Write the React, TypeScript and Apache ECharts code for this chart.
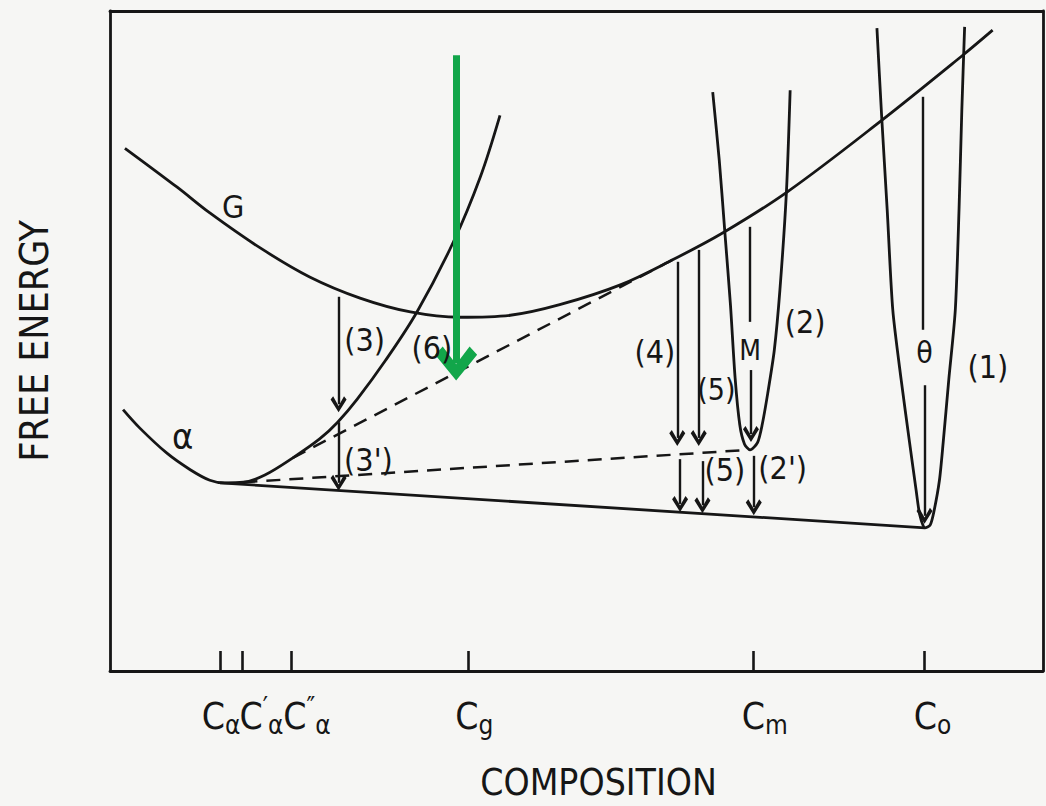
import React, { useEffect, useRef } from 'react';
import * as echarts from 'echarts';

// ---- data (composition / free energy, arbitrary units 0..100) ----
const curveG: [number, number][] = [
  [1.6, 79.2], [7.2, 73.3], [10.7, 69.4], [16.1, 64.1], [21.4, 59.7], [26.8, 56.5],
  [32.2, 54.4], [37.5, 53.6], [42.9, 53.9], [48.2, 55.5], [54.7, 58.5], [60.3, 62.3],
  [65.7, 66.4], [72.6, 72.6], [82.5, 83.2], [91.4, 93.3], [94.6, 97.1],
];
const curveAlpha: [number, number][] = [
  [1.4, 39.6], [3.2, 36.8], [6.1, 33.0], [8.6, 30.5], [10.7, 28.9], [12.3, 28.5],
  [14.3, 28.6], [16.6, 29.7], [19.6, 32.3], [22.5, 35.2], [24.4, 37.7], [26.5, 41.2],
  [29.5, 47.0], [32.9, 54.4], [36.8, 65.0], [39.7, 74.9], [41.8, 84.2],
];
const curveM: [number, number][] = [
  [64.6, 87.7], [65.3, 77.4], [65.9, 66.5], [66.5, 55.5], [67.0, 44.4], [67.5, 37.3],
  [68.0, 34.4], [68.6, 33.5], [69.4, 34.6], [69.9, 37.3], [70.5, 42.1], [71.2, 48.6],
  [71.8, 57.7], [72.5, 72.6], [72.9, 88.0],
];
const curveTheta: [number, number][] = [
  [82.2, 97.4], [82.7, 84.2], [83.3, 69.9], [83.9, 54.7], [84.8, 44.1], [85.7, 34.6],
  [86.4, 27.4], [86.8, 23.6], [87.35, 21.7], [87.9, 22.1], [88.3, 24.1], [88.9, 28.9],
  [89.3, 34.6], [89.9, 44.1], [90.6, 54.7], [91.0, 69.9], [91.3, 85.0], [91.6, 97.6],
];
const tangentSolid: [number, number][] = [[11.8, 28.5], [87.35, 21.7]];
const tangentToM: [number, number][] = [[14.3, 28.6], [68.4, 33.5]];
const tangentToG: [number, number][] = [[19.6, 32.3], [60.3, 62.3]];

// arrows: [x, yStart, yTip]
const arrowsWithHead: [number, number, number][] = [
  [24.5, 56.7, 39.2],  // (3)
  [24.5, 37.7, 27.3],  // (3')
  [60.8, 62.0, 34.1],  // (4)
  [61.1, 32.1, 24.1],  // (4')
  [63.1, 63.8, 34.1],  // (5)
  [63.5, 31.8, 23.9],  // (5')
  [68.7, 45.6, 34.7],  // (2) lower part
  [69.0, 32.6, 23.6],  // (2')
  [87.3, 43.3, 22.3],  // (1) lower part
];
const arrowShafts: [number, number, number][] = [
  [68.6, 67.3, 52.9],  // (2) upper part
  [87.1, 87.0, 51.7],  // (1) upper part
];
const greenArrow: [number, number, number] = [37.1, 93.3, 44.0];

const tickValues = [11.8, 14.2, 19.4, 38.4, 68.9, 87.3];
const tickSubs = ['α', 'α', 'α', 'g', 'm', 'o'];
const tickPrimes = ['', '′', '″', '', '', ''];

const annotations: { name: string; value: [number, number]; size: number }[] = [
  { name: 'G', value: [13.2, 70.3], size: 32 },
  { name: 'α', value: [7.8, 35.5], size: 36 },
  { name: '(3)', value: [27.3, 50.2], size: 32 },
  { name: '(6)', value: [34.5, 48.9], size: 32 },
  { name: "(3')", value: [27.7, 32.0], size: 32 },
  { name: '(4)', value: [58.4, 48.3], size: 32 },
  { name: '(5)', value: [65.0, 42.6], size: 30 },
  { name: 'M', value: [68.6, 48.6], size: 28 },
  { name: '(2)', value: [74.5, 52.9], size: 32 },
  { name: '(5)', value: [65.9, 30.5], size: 32 },
  { name: "(2')", value: [72.1, 30.8], size: 32 },
  { name: 'θ', value: [87.3, 48.3], size: 30 },
  { name: '(1)', value: [94.1, 46.1], size: 32 },
];

// ---- styling ----
const INK = '#161616';
const GREEN = '#12a64a';
const BG = '#f6f6f4';
const FONT = '"DejaVu Sans Condensed", "Liberation Sans Narrow", "DejaVu Sans", sans-serif';
const CHEVRON = 'path://M50,0L100,80L84,100L50,40L16,100L0,80Z';
const labelDx = [1, 19, 16, 6, 12, 8];
const UNIT_Y = 6.6; // px per y unit

export default function App() {
  const ref = useRef<HTMLDivElement>(null);
  useEffect(() => {
    if (!ref.current) return;
    const chart = echarts.init(ref.current, null, { renderer: 'svg' });
    const curve = (data: [number, number][], smooth: number) => ({
      type: 'line', data, smooth, symbol: 'none', silent: true, z: 3,
      lineStyle: { color: INK, width: 2.8 },
    });
    const dashed = (data: [number, number][]) => ({
      type: 'line', data, symbol: 'none', silent: true, z: 3,
      lineStyle: { color: INK, width: 2.5, type: [14, 9] },
    });
    const headHalf = 8 / UNIT_Y;
    const tickLen = 20 / UNIT_Y;
    const rich: any = {
      c: { fontSize: 37, fontFamily: FONT, color: INK, lineHeight: 44 },
      s: { fontSize: 26, fontFamily: FONT, color: INK, lineHeight: 26, verticalAlign: 'bottom' },
      p: { fontSize: 26, fontFamily: FONT, color: INK, lineHeight: 26, verticalAlign: 'top' },
    };

    chart.setOption({
      animation: false,
      backgroundColor: BG,
      grid: { left: 110, right: 3, top: 11, bottom: 135 },
      xAxis: [
        {
          type: 'value', min: 0, max: 100, position: 'bottom',
          axisLine: { show: true, onZero: false, lineStyle: { color: INK, width: 2.8 } },
          axisTick: { show: false }, axisLabel: { show: false }, splitLine: { show: false },
          name: 'COMPOSITION', nameLocation: 'middle', nameGap: 93,
          nameTextStyle: { fontSize: 37, fontFamily: FONT, color: INK, padding: [0, 0, 0, 44] },
        },
        {
          type: 'value', min: 0, max: 100, position: 'top',
          axisLine: { show: true, onZero: false, lineStyle: { color: INK, width: 2.8 } },
          axisTick: { show: false }, axisLabel: { show: false }, splitLine: { show: false },
        },
      ],
      yAxis: [
        {
          type: 'value', min: 0, max: 100, position: 'left',
          axisLine: { show: true, onZero: false, lineStyle: { color: INK, width: 2.8 } },
          axisTick: { show: false }, axisLabel: { show: false }, splitLine: { show: false },
          name: 'FREE ENERGY', nameLocation: 'middle', nameGap: 56,
          nameTextStyle: { fontSize: 39, fontFamily: FONT, color: INK },
        },
        {
          type: 'value', min: 0, max: 100, position: 'right',
          axisLine: { show: true, onZero: false, lineStyle: { color: INK, width: 2.8 } },
          axisTick: { show: false }, axisLabel: { show: false }, splitLine: { show: false },
        },
      ],
      series: [
        curve(curveG, 0.35),
        curve(curveAlpha, 0.35),
        curve(curveM, 0.25),
        curve(curveTheta, 0.25),
        curve(tangentSolid, 0),
        dashed(tangentToM),
        dashed(tangentToG),
        {
          // composition ticks on the bottom axis
          type: 'line', data: [], silent: true, z: 4,
          markLine: {
            silent: true, animation: false, symbol: ['none', 'none'],
            lineStyle: { color: INK, width: 2.6, type: 'solid' },
            label: { show: false },
            data: tickValues.map((x) => [{ coord: [x, 0] }, { coord: [x, tickLen] }]),
          },
        },
        {
          // composition tick labels
          type: 'scatter', symbolSize: 0, silent: true, z: 5, clip: false,
          itemStyle: { color: INK },
          data: tickValues.map((x, i) => ({
            value: [x, 0],
            label: {
              show: true, position: 'inside', offset: [labelDx[i], 45],
              color: INK, opacity: 1, fontFamily: FONT,
              formatter: `{c|C}${tickPrimes[i] ? `{p|${tickPrimes[i]}}` : ''}{s|${tickSubs[i]}}`,
              rich,
            },
          })),
        },
        {
          type: 'line', data: [], silent: true, z: 4,
          markLine: {
            silent: true, animation: false,
            symbol: ['none', CHEVRON], symbolSize: [16, 16],
            lineStyle: { color: INK, width: 2.4, type: 'solid' },
            label: { show: false },
            data: [
              ...arrowsWithHead.map(([x, y0, y1]) => [
                { coord: [x, y0] }, { coord: [x, y1 + headHalf] },
              ]),
              ...arrowShafts.map(([x, y0, y1]) => [
                { coord: [x, y0], symbol: 'none' }, { coord: [x, y1], symbol: 'none' },
              ]),
            ],
          },
        },
        {
          type: 'line', data: [], silent: true, z: 6,
          markLine: {
            silent: true, animation: false,
            symbol: ['none', 'path://M50,0L100,76L82,100L50,48L18,100L0,76Z'], symbolSize: [42, 34],
            lineStyle: { color: GREEN, width: 7, type: 'solid' },
            label: { show: false },
            data: [[
              { coord: [greenArrow[0], greenArrow[1]] },
              { coord: [greenArrow[0], greenArrow[2] + 17 / UNIT_Y] },
            ]],
          },
        },
        {
          type: 'scatter', symbolSize: 0, silent: true, z: 5,
          itemStyle: { color: INK },
          data: annotations.map((a) => ({
            name: a.name, value: a.value,
            label: {
              show: true, position: 'inside', formatter: '{b}',
              fontSize: a.size, fontFamily: FONT, color: INK, opacity: 1,
            },
          })),
        },
      ],
    });
    return () => chart.dispose();
  }, []);
  return (
    <div
      ref={ref}
      style={{ position: 'fixed', left: 0, top: 0, width: 1046, height: 806 }}
    />
  );
}
